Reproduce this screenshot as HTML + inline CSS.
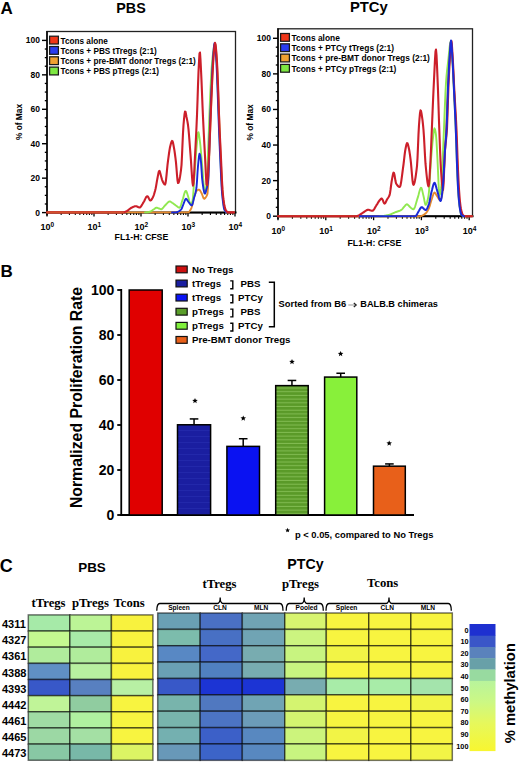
<!DOCTYPE html><html><head><meta charset="utf-8"><style>html,body{margin:0;padding:0;background:#fff;width:520px;height:763px;overflow:hidden}</style></head><body><svg width="520" height="763" viewBox="0 0 520 763" style="display:block">
<rect width="520" height="763" fill="#fff"/>
<text x="0.6" y="13.9" font-family='"Liberation Sans", sans-serif' font-size="17" font-weight="bold" text-anchor="start" fill="#000" >A</text>
<text x="131" y="12.5" font-family='"Liberation Sans", sans-serif' font-size="14.3" font-weight="bold" text-anchor="middle" fill="#000" >PBS</text>
<text x="368.8" y="11.7" font-family='"Liberation Sans", sans-serif' font-size="14.8" font-weight="bold" text-anchor="middle" fill="#000" >PTCy</text>
<rect x="47" y="31.5" width="188.5" height="181.1" fill="none" stroke="#222" stroke-width="1.3"/>
<line x1="47" y1="30.9" x2="47" y2="215.6" stroke="#111" stroke-width="1.7"/>
<line x1="47" y1="212.6" x2="236.5" y2="212.6" stroke="#000" stroke-width="2"/>
<line x1="42" y1="212.6" x2="47" y2="212.6" stroke="#000" stroke-width="1.4"/>
<text x="40" y="215.6" font-family='"Liberation Sans", sans-serif' font-size="8.5" font-weight="bold" text-anchor="end" fill="#000" >0</text>
<line x1="42" y1="178.16" x2="47" y2="178.16" stroke="#000" stroke-width="1.4"/>
<text x="40" y="181.16" font-family='"Liberation Sans", sans-serif' font-size="8.5" font-weight="bold" text-anchor="end" fill="#000" >20</text>
<line x1="42" y1="143.72" x2="47" y2="143.72" stroke="#000" stroke-width="1.4"/>
<text x="40" y="146.72" font-family='"Liberation Sans", sans-serif' font-size="8.5" font-weight="bold" text-anchor="end" fill="#000" >40</text>
<line x1="42" y1="109.28" x2="47" y2="109.28" stroke="#000" stroke-width="1.4"/>
<text x="40" y="112.28" font-family='"Liberation Sans", sans-serif' font-size="8.5" font-weight="bold" text-anchor="end" fill="#000" >60</text>
<line x1="42" y1="74.84" x2="47" y2="74.84" stroke="#000" stroke-width="1.4"/>
<text x="40" y="77.84" font-family='"Liberation Sans", sans-serif' font-size="8.5" font-weight="bold" text-anchor="end" fill="#000" >80</text>
<line x1="42" y1="40.400000000000006" x2="47" y2="40.400000000000006" stroke="#000" stroke-width="1.4"/>
<text x="40" y="43.400000000000006" font-family='"Liberation Sans", sans-serif' font-size="8.5" font-weight="bold" text-anchor="end" fill="#000" >100</text>
<line x1="44.8" y1="203.99" x2="47" y2="203.99" stroke="#000" stroke-width="1.3"/>
<line x1="44.8" y1="195.38" x2="47" y2="195.38" stroke="#000" stroke-width="1.3"/>
<line x1="44.8" y1="186.76999999999998" x2="47" y2="186.76999999999998" stroke="#000" stroke-width="1.3"/>
<line x1="44.8" y1="169.55" x2="47" y2="169.55" stroke="#000" stroke-width="1.3"/>
<line x1="44.8" y1="160.94" x2="47" y2="160.94" stroke="#000" stroke-width="1.3"/>
<line x1="44.8" y1="152.32999999999998" x2="47" y2="152.32999999999998" stroke="#000" stroke-width="1.3"/>
<line x1="44.8" y1="135.11" x2="47" y2="135.11" stroke="#000" stroke-width="1.3"/>
<line x1="44.8" y1="126.5" x2="47" y2="126.5" stroke="#000" stroke-width="1.3"/>
<line x1="44.8" y1="117.89" x2="47" y2="117.89" stroke="#000" stroke-width="1.3"/>
<line x1="44.8" y1="100.66999999999999" x2="47" y2="100.66999999999999" stroke="#000" stroke-width="1.3"/>
<line x1="44.8" y1="92.05999999999999" x2="47" y2="92.05999999999999" stroke="#000" stroke-width="1.3"/>
<line x1="44.8" y1="83.44999999999999" x2="47" y2="83.44999999999999" stroke="#000" stroke-width="1.3"/>
<line x1="44.8" y1="66.23000000000002" x2="47" y2="66.23000000000002" stroke="#000" stroke-width="1.3"/>
<line x1="44.8" y1="57.620000000000005" x2="47" y2="57.620000000000005" stroke="#000" stroke-width="1.3"/>
<line x1="44.8" y1="49.01000000000002" x2="47" y2="49.01000000000002" stroke="#000" stroke-width="1.3"/>
<line x1="61.14840979620712" y1="212.6" x2="61.14840979620712" y2="215.1" stroke="#000" stroke-width="1.1"/>
<line x1="69.42469897182414" y1="212.6" x2="69.42469897182414" y2="215.1" stroke="#000" stroke-width="1.1"/>
<line x1="75.29681959241424" y1="212.6" x2="75.29681959241424" y2="215.1" stroke="#000" stroke-width="1.1"/>
<line x1="79.85159020379288" y1="212.6" x2="79.85159020379288" y2="215.1" stroke="#000" stroke-width="1.1"/>
<line x1="83.57310876803126" y1="212.6" x2="83.57310876803126" y2="215.1" stroke="#000" stroke-width="1.1"/>
<line x1="86.71960788067007" y1="212.6" x2="86.71960788067007" y2="215.1" stroke="#000" stroke-width="1.1"/>
<line x1="89.44522938862136" y1="212.6" x2="89.44522938862136" y2="215.1" stroke="#000" stroke-width="1.1"/>
<line x1="91.84939794364827" y1="212.6" x2="91.84939794364827" y2="215.1" stroke="#000" stroke-width="1.1"/>
<line x1="108.14840979620712" y1="212.6" x2="108.14840979620712" y2="215.1" stroke="#000" stroke-width="1.1"/>
<line x1="116.42469897182413" y1="212.6" x2="116.42469897182413" y2="215.1" stroke="#000" stroke-width="1.1"/>
<line x1="122.29681959241424" y1="212.6" x2="122.29681959241424" y2="215.1" stroke="#000" stroke-width="1.1"/>
<line x1="126.85159020379288" y1="212.6" x2="126.85159020379288" y2="215.1" stroke="#000" stroke-width="1.1"/>
<line x1="130.57310876803126" y1="212.6" x2="130.57310876803126" y2="215.1" stroke="#000" stroke-width="1.1"/>
<line x1="133.71960788067008" y1="212.6" x2="133.71960788067008" y2="215.1" stroke="#000" stroke-width="1.1"/>
<line x1="136.44522938862133" y1="212.6" x2="136.44522938862133" y2="215.1" stroke="#000" stroke-width="1.1"/>
<line x1="138.84939794364828" y1="212.6" x2="138.84939794364828" y2="215.1" stroke="#000" stroke-width="1.1"/>
<line x1="155.14840979620712" y1="212.6" x2="155.14840979620712" y2="215.1" stroke="#000" stroke-width="1.1"/>
<line x1="163.42469897182414" y1="212.6" x2="163.42469897182414" y2="215.1" stroke="#000" stroke-width="1.1"/>
<line x1="169.29681959241424" y1="212.6" x2="169.29681959241424" y2="215.1" stroke="#000" stroke-width="1.1"/>
<line x1="173.85159020379288" y1="212.6" x2="173.85159020379288" y2="215.1" stroke="#000" stroke-width="1.1"/>
<line x1="177.57310876803126" y1="212.6" x2="177.57310876803126" y2="215.1" stroke="#000" stroke-width="1.1"/>
<line x1="180.71960788067008" y1="212.6" x2="180.71960788067008" y2="215.1" stroke="#000" stroke-width="1.1"/>
<line x1="183.44522938862136" y1="212.6" x2="183.44522938862136" y2="215.1" stroke="#000" stroke-width="1.1"/>
<line x1="185.84939794364826" y1="212.6" x2="185.84939794364826" y2="215.1" stroke="#000" stroke-width="1.1"/>
<line x1="202.14840979620712" y1="212.6" x2="202.14840979620712" y2="215.1" stroke="#000" stroke-width="1.1"/>
<line x1="210.42469897182414" y1="212.6" x2="210.42469897182414" y2="215.1" stroke="#000" stroke-width="1.1"/>
<line x1="216.29681959241424" y1="212.6" x2="216.29681959241424" y2="215.1" stroke="#000" stroke-width="1.1"/>
<line x1="220.85159020379288" y1="212.6" x2="220.85159020379288" y2="215.1" stroke="#000" stroke-width="1.1"/>
<line x1="224.57310876803126" y1="212.6" x2="224.57310876803126" y2="215.1" stroke="#000" stroke-width="1.1"/>
<line x1="227.71960788067008" y1="212.6" x2="227.71960788067008" y2="215.1" stroke="#000" stroke-width="1.1"/>
<line x1="230.44522938862136" y1="212.6" x2="230.44522938862136" y2="215.1" stroke="#000" stroke-width="1.1"/>
<line x1="232.84939794364826" y1="212.6" x2="232.84939794364826" y2="215.1" stroke="#000" stroke-width="1.1"/>
<line x1="47" y1="212.6" x2="47" y2="216.6" stroke="#000" stroke-width="1.3"/>
<text x="47.3" y="230.4" font-family='"Liberation Sans", sans-serif' font-size="9" font-weight="bold" text-anchor="middle">10<tspan dy="-3.5" font-size="6.5">0</tspan></text>
<line x1="94" y1="212.6" x2="94" y2="216.6" stroke="#000" stroke-width="1.3"/>
<text x="94.3" y="230.4" font-family='"Liberation Sans", sans-serif' font-size="9" font-weight="bold" text-anchor="middle">10<tspan dy="-3.5" font-size="6.5">1</tspan></text>
<line x1="141" y1="212.6" x2="141" y2="216.6" stroke="#000" stroke-width="1.3"/>
<text x="141.3" y="230.4" font-family='"Liberation Sans", sans-serif' font-size="9" font-weight="bold" text-anchor="middle">10<tspan dy="-3.5" font-size="6.5">2</tspan></text>
<line x1="188" y1="212.6" x2="188" y2="216.6" stroke="#000" stroke-width="1.3"/>
<text x="188.3" y="230.4" font-family='"Liberation Sans", sans-serif' font-size="9" font-weight="bold" text-anchor="middle">10<tspan dy="-3.5" font-size="6.5">3</tspan></text>
<line x1="235" y1="212.6" x2="235" y2="216.6" stroke="#000" stroke-width="1.3"/>
<text x="235.3" y="230.4" font-family='"Liberation Sans", sans-serif' font-size="9" font-weight="bold" text-anchor="middle">10<tspan dy="-3.5" font-size="6.5">4</tspan></text>
<text x="0" y="0" transform="translate(22.4,122) rotate(-90) scale(0.89,1)" font-family='"Liberation Sans", sans-serif' font-size="9.4" font-weight="bold" text-anchor="middle">% of Max</text>
<text x="114.6" y="239.6" font-family='"Liberation Sans", sans-serif' font-size="8.8" font-weight="bold" text-anchor="start" fill="#000" >FL1-H: CFSE</text>
<path d="M47.0,212.4 L188.0,212.4 L188.5,212.3 L189.0,211.9 L189.5,211.3 L190.0,210.6 L190.5,209.9 L191.0,209.0 L191.5,207.8 L192.0,206.1 L192.5,204.0 L193.0,201.8 L193.5,199.5 L194.0,197.5 L194.5,195.9 L195.0,194.4 L195.5,192.9 L196.0,191.7 L196.5,191.0 L197.0,190.6 L197.5,190.2 L198.0,189.9 L198.5,189.7 L199.0,189.6 L199.5,189.8 L200.0,190.4 L200.5,191.2 L201.0,192.1 L201.5,193.0 L202.0,194.1 L202.5,195.5 L203.0,196.9 L203.5,198.1 L204.0,198.7 L204.5,198.7 L205.0,198.3 L205.5,197.7 L206.0,197.0 L206.5,196.2 L207.0,195.2 L207.5,193.6 L208.0,188.0 L208.5,176.9 L209.0,163.3 L209.5,150.0 L210.0,136.8 L210.5,122.3 L211.0,107.9 L211.5,95.0 L212.0,83.1 L212.5,71.8 L213.0,62.3 L213.5,55.6 L214.0,49.7 L214.5,45.3 L215.0,43.5 L215.5,45.3 L216.0,49.8 L216.5,55.8 L217.0,63.7 L217.5,75.4 L218.0,88.0 L218.5,100.7 L219.0,114.1 L219.5,127.2 L220.0,140.6 L220.5,153.3 L221.0,164.2 L221.5,174.5 L222.0,183.8 L222.5,191.5 L223.0,197.0 L223.5,201.6 L224.0,205.5 L224.5,208.4 L225.0,210.0 L225.5,210.7 L226.0,211.3 L226.5,211.8 L227.0,212.1 L227.5,212.3 L228.0,212.4 L234.0,212.4" fill="none" stroke="#e58a2e" stroke-width="1.9" stroke-linejoin="round" stroke-linecap="round"/>
<path d="M145.0,212.4 L145.5,212.4 L146.0,212.4 L146.5,212.3 L147.0,212.3 L147.5,212.3 L148.0,212.2 L148.5,212.1 L149.0,212.0 L149.5,211.8 L150.0,211.7 L150.5,211.5 L151.0,211.2 L151.5,210.9 L152.0,210.6 L152.5,210.2 L153.0,209.8 L153.5,209.5 L154.0,209.2 L154.5,208.8 L155.0,208.4 L155.5,208.0 L156.0,207.8 L156.5,207.7 L157.0,207.8 L157.5,207.9 L158.0,208.1 L158.5,208.3 L159.0,208.5 L159.5,208.7 L160.0,208.9 L160.5,209.1 L161.0,209.2 L161.5,209.2 L162.0,208.9 L162.5,208.5 L163.0,207.9 L163.5,207.3 L164.0,206.6 L164.5,206.0 L165.0,205.5 L165.5,205.0 L166.0,204.5 L166.5,203.9 L167.0,203.3 L167.5,202.8 L168.0,202.3 L168.5,201.9 L169.0,201.6 L169.5,201.5 L170.0,201.5 L170.5,201.7 L171.0,202.0 L171.5,202.3 L172.0,202.7 L172.5,203.0 L173.0,203.3 L173.5,203.7 L174.0,204.1 L174.5,204.4 L175.0,204.8 L175.5,205.2 L176.0,205.5 L176.5,205.9 L177.0,206.3 L177.5,206.7 L178.0,207.1 L178.5,207.4 L179.0,207.6 L179.5,207.7 L180.0,207.4 L180.5,206.5 L181.0,205.0 L181.5,203.3 L182.0,201.5 L182.5,200.0 L183.0,198.5 L183.5,196.7 L184.0,194.8 L184.5,193.1 L185.0,191.8 L185.5,190.9 L186.0,190.9 L186.5,191.6 L187.0,192.9 L187.5,194.5 L188.0,196.0 L188.5,197.7 L189.0,199.9 L189.5,201.9 L190.0,203.4 L190.5,203.8 L191.0,203.6 L191.5,203.0 L192.0,202.2 L192.5,201.1 L193.0,197.1 L193.5,190.3 L194.0,182.4 L194.5,175.0 L195.0,168.1 L195.5,160.9 L196.0,154.0 L196.5,148.0 L197.0,142.2 L197.5,136.6 L198.0,132.7 L198.5,132.2 L199.0,134.4 L199.5,138.0 L200.0,142.0 L200.5,146.5 L201.0,152.1 L201.5,158.1 L202.0,164.1 L202.5,169.6 L203.0,176.0 L203.5,182.7 L204.0,188.5 L204.5,192.5 L205.0,193.5 L205.5,191.8 L206.0,188.2 L206.5,183.3 L207.0,177.3 L207.5,166.8 L208.0,153.4 L208.5,140.0 L209.0,126.6 L209.5,112.7 L210.0,100.0 L210.5,88.7 L211.0,78.3 L211.5,70.0 L212.0,63.5 L212.5,57.9 L213.0,53.5 L213.5,49.9 L214.0,46.6 L214.5,44.4 L215.0,44.3 L215.5,47.7 L216.0,53.2 L216.5,60.0 L217.0,70.5 L217.5,83.1 L218.0,95.5 L218.5,108.7 L219.0,122.0 L219.5,135.3 L220.0,148.4 L220.5,160.0 L221.0,170.4 L221.5,180.3 L222.0,188.8 L222.5,195.0 L223.0,199.6 L223.5,203.7 L224.0,206.9 L224.5,209.2 L225.0,210.4 L225.5,211.2 L226.0,211.8 L226.5,212.2 L227.0,212.4" fill="none" stroke="#90e850" stroke-width="1.9" stroke-linejoin="round" stroke-linecap="round"/>
<path d="M172.0,212.4 L176.0,212.4 L176.5,212.3 L177.0,212.2 L177.5,212.0 L178.0,211.8 L178.5,211.5 L179.0,211.2 L179.5,210.9 L180.0,210.6 L180.5,210.1 L181.0,209.6 L181.5,209.0 L182.0,208.0 L182.5,206.7 L183.0,205.3 L183.5,204.0 L184.0,202.7 L184.5,201.3 L185.0,200.0 L185.5,199.1 L186.0,198.8 L186.5,199.1 L187.0,199.7 L187.5,200.5 L188.0,201.3 L188.5,202.0 L189.0,202.6 L189.5,203.3 L190.0,204.0 L190.5,204.6 L191.0,205.1 L191.5,205.3 L192.0,205.3 L192.5,204.2 L193.0,202.3 L193.5,200.1 L194.0,198.0 L194.5,196.3 L195.0,194.7 L195.5,192.9 L196.0,190.6 L196.5,187.5 L197.0,181.1 L197.5,172.8 L198.0,166.0 L198.5,160.8 L199.0,156.1 L199.5,153.7 L200.0,154.6 L200.5,157.7 L201.0,162.0 L201.5,169.4 L202.0,177.3 L202.5,182.0 L203.0,185.7 L203.5,189.0 L204.0,191.5 L204.5,193.2 L205.0,193.6 L205.5,192.7 L206.0,190.9 L206.5,189.0 L207.0,187.2 L207.5,185.1 L208.0,182.1 L208.5,175.4 L209.0,159.1 L209.5,139.8 L210.0,124.5 L210.5,111.5 L211.0,99.3 L211.5,88.0 L212.0,77.0 L212.5,66.7 L213.0,58.3 L213.5,51.8 L214.0,46.1 L214.5,43.1 L215.0,44.4 L215.5,49.2 L216.0,55.7 L216.5,63.8 L217.0,75.3 L217.5,88.0 L218.0,101.9 L218.5,116.6 L219.0,129.7 L219.5,142.0 L220.0,153.6 L220.5,164.2 L221.0,175.0 L221.5,184.9 L222.0,192.7 L222.5,197.9 L223.0,202.2 L223.5,205.8 L224.0,208.5 L224.5,210.0 L225.0,210.8 L225.5,211.5 L226.0,212.0 L226.5,212.3 L227.0,212.4" fill="none" stroke="#1a2ad8" stroke-width="1.9" stroke-linejoin="round" stroke-linecap="round"/>
<path d="M47.0,212.4 L123.0,212.4 L123.5,212.4 L124.0,212.3 L124.5,212.1 L125.0,211.9 L125.5,211.7 L126.0,211.5 L126.5,211.2 L127.0,211.0 L127.5,210.7 L128.0,210.4 L128.5,209.9 L129.0,209.5 L129.5,209.1 L130.0,208.7 L130.5,208.3 L131.0,208.0 L131.5,207.7 L132.0,207.5 L132.5,207.2 L133.0,207.0 L133.5,206.8 L134.0,206.6 L134.5,206.4 L135.0,206.3 L135.5,206.2 L136.0,206.2 L136.5,206.3 L137.0,206.5 L137.5,206.7 L138.0,207.0 L138.5,207.2 L139.0,207.4 L139.5,207.5 L140.0,207.4 L140.5,207.0 L141.0,206.4 L141.5,205.7 L142.0,204.8 L142.5,204.0 L143.0,203.1 L143.5,202.3 L144.0,201.5 L144.5,200.5 L145.0,199.4 L145.5,198.4 L146.0,197.4 L146.5,196.7 L147.0,196.3 L147.5,196.3 L148.0,196.8 L148.5,197.6 L149.0,198.7 L149.5,199.6 L150.0,200.3 L150.5,200.5 L151.0,200.2 L151.5,199.7 L152.0,198.9 L152.5,198.0 L153.0,197.0 L153.5,195.9 L154.0,194.5 L154.5,192.8 L155.0,191.0 L155.5,189.0 L156.0,186.6 L156.5,183.6 L157.0,180.6 L157.5,178.0 L158.0,175.4 L158.5,172.9 L159.0,171.1 L159.5,170.9 L160.0,172.2 L160.5,174.1 L161.0,176.0 L161.5,177.8 L162.0,179.6 L162.5,181.0 L163.0,182.0 L163.5,183.0 L164.0,183.8 L164.5,184.4 L165.0,184.6 L165.5,183.3 L166.0,180.0 L166.5,175.4 L167.0,170.1 L167.5,165.0 L168.0,160.8 L168.5,157.2 L169.0,153.5 L169.5,150.1 L170.0,147.3 L170.5,145.2 L171.0,143.3 L171.5,141.8 L172.0,140.9 L172.5,141.1 L173.0,142.8 L173.5,145.3 L174.0,148.0 L174.5,150.9 L175.0,154.5 L175.5,158.4 L176.0,162.6 L176.5,168.5 L177.0,174.9 L177.5,180.3 L178.0,183.0 L178.5,182.8 L179.0,181.6 L179.5,179.6 L180.0,176.9 L180.5,173.7 L181.0,170.0 L181.5,165.1 L182.0,155.7 L182.5,144.1 L183.0,133.0 L183.5,125.0 L184.0,119.4 L184.5,114.5 L185.0,111.6 L185.5,111.8 L186.0,114.2 L186.5,117.0 L187.0,119.4 L187.5,121.9 L188.0,125.0 L188.5,129.4 L189.0,135.0 L189.5,141.4 L190.0,148.0 L190.5,154.3 L191.0,161.2 L191.5,169.2 L192.0,176.8 L192.5,182.7 L193.0,185.6 L193.5,183.6 L194.0,176.3 L194.5,166.3 L195.0,156.1 L195.5,146.9 L196.0,137.1 L196.5,126.5 L197.0,115.0 L197.5,101.0 L198.0,85.4 L198.5,72.1 L199.0,61.8 L199.5,53.5 L200.0,52.5 L200.5,60.0 L201.0,70.0 L201.5,80.6 L202.0,93.0 L202.5,105.7 L203.0,117.1 L203.5,127.5 L204.0,137.5 L204.5,147.0 L205.0,156.2 L205.5,166.8 L206.0,177.2 L206.5,184.3 L207.0,185.2 L207.5,180.7 L208.0,173.2 L208.5,165.0 L209.0,155.7 L209.5,144.2 L210.0,132.1 L210.5,120.3 L211.0,108.2 L211.5,96.1 L212.0,85.0 L212.5,74.7 L213.0,65.1 L213.5,57.2 L214.0,51.1 L214.5,45.7 L215.0,42.9 L215.5,44.1 L216.0,48.7 L216.5,54.8 L217.0,62.3 L217.5,72.9 L218.0,85.0 L218.5,99.3 L219.0,114.6 L219.5,127.2 L220.0,138.0 L220.5,148.2 L221.0,158.6 L221.5,169.9 L222.0,181.0 L222.5,189.9 L223.0,195.4 L223.5,199.7 L224.0,203.2 L224.5,206.1 L225.0,208.2 L225.5,209.5 L226.0,210.4 L226.5,211.2 L227.0,211.8 L227.5,212.3 L228.0,212.4 L234.0,212.4" fill="none" stroke="#cc1f2a" stroke-width="2.1" stroke-linejoin="round" stroke-linecap="round"/>
<path d="M47.5,212.4 L123.0,212.4" fill="none" stroke="#d4502c" stroke-width="1.9" stroke-linejoin="round" stroke-linecap="round"/>
<rect x="49.6" y="36.2" width="8.8" height="7.8" fill="#f03618" stroke="#1a1a1a" stroke-width="1.25"/>
<text x="60.6" y="43.5" font-family='"Liberation Sans", sans-serif' font-size="8.2" font-weight="bold" text-anchor="start" fill="#000" >Tcons alone</text>
<rect x="49.6" y="46.5" width="8.8" height="7.8" fill="#2a3cf0" stroke="#1a1a1a" stroke-width="1.25"/>
<text x="60.6" y="53.8" font-family='"Liberation Sans", sans-serif' font-size="8.2" font-weight="bold" text-anchor="start" fill="#000" >Tcons + PBS tTregs (2:1)</text>
<rect x="49.6" y="56.800000000000004" width="8.8" height="7.8" fill="#f0a232" stroke="#1a1a1a" stroke-width="1.25"/>
<text x="60.6" y="64.10000000000001" font-family='"Liberation Sans", sans-serif' font-size="8.2" font-weight="bold" text-anchor="start" fill="#000" >Tcons + pre-BMT donor Tregs (2:1)</text>
<rect x="49.6" y="67.10000000000001" width="8.8" height="7.8" fill="#7ee842" stroke="#1a1a1a" stroke-width="1.25"/>
<text x="60.6" y="74.4" font-family='"Liberation Sans", sans-serif' font-size="8.2" font-weight="bold" text-anchor="start" fill="#000" >Tcons + PBS pTregs (2:1)</text>
<rect x="278" y="28.8" width="194.5" height="187.39999999999998" fill="none" stroke="#222" stroke-width="1.3"/>
<line x1="278" y1="28.2" x2="278" y2="219.2" stroke="#111" stroke-width="1.7"/>
<line x1="278" y1="216.2" x2="473.5" y2="216.2" stroke="#000" stroke-width="2"/>
<line x1="273" y1="216.2" x2="278" y2="216.2" stroke="#000" stroke-width="1.4"/>
<text x="271" y="219.2" font-family='"Liberation Sans", sans-serif' font-size="8.5" font-weight="bold" text-anchor="end" fill="#000" >0</text>
<line x1="273" y1="180.62" x2="278" y2="180.62" stroke="#000" stroke-width="1.4"/>
<text x="271" y="183.62" font-family='"Liberation Sans", sans-serif' font-size="8.5" font-weight="bold" text-anchor="end" fill="#000" >20</text>
<line x1="273" y1="145.04" x2="278" y2="145.04" stroke="#000" stroke-width="1.4"/>
<text x="271" y="148.04" font-family='"Liberation Sans", sans-serif' font-size="8.5" font-weight="bold" text-anchor="end" fill="#000" >40</text>
<line x1="273" y1="109.46000000000001" x2="278" y2="109.46000000000001" stroke="#000" stroke-width="1.4"/>
<text x="271" y="112.46000000000001" font-family='"Liberation Sans", sans-serif' font-size="8.5" font-weight="bold" text-anchor="end" fill="#000" >60</text>
<line x1="273" y1="73.88" x2="278" y2="73.88" stroke="#000" stroke-width="1.4"/>
<text x="271" y="76.88" font-family='"Liberation Sans", sans-serif' font-size="8.5" font-weight="bold" text-anchor="end" fill="#000" >80</text>
<line x1="273" y1="38.30000000000001" x2="278" y2="38.30000000000001" stroke="#000" stroke-width="1.4"/>
<text x="271" y="41.30000000000001" font-family='"Liberation Sans", sans-serif' font-size="8.5" font-weight="bold" text-anchor="end" fill="#000" >100</text>
<line x1="275.8" y1="207.30499999999998" x2="278" y2="207.30499999999998" stroke="#000" stroke-width="1.3"/>
<line x1="275.8" y1="198.41" x2="278" y2="198.41" stroke="#000" stroke-width="1.3"/>
<line x1="275.8" y1="189.515" x2="278" y2="189.515" stroke="#000" stroke-width="1.3"/>
<line x1="275.8" y1="171.725" x2="278" y2="171.725" stroke="#000" stroke-width="1.3"/>
<line x1="275.8" y1="162.82999999999998" x2="278" y2="162.82999999999998" stroke="#000" stroke-width="1.3"/>
<line x1="275.8" y1="153.935" x2="278" y2="153.935" stroke="#000" stroke-width="1.3"/>
<line x1="275.8" y1="136.14499999999998" x2="278" y2="136.14499999999998" stroke="#000" stroke-width="1.3"/>
<line x1="275.8" y1="127.25" x2="278" y2="127.25" stroke="#000" stroke-width="1.3"/>
<line x1="275.8" y1="118.355" x2="278" y2="118.355" stroke="#000" stroke-width="1.3"/>
<line x1="275.8" y1="100.56500000000001" x2="278" y2="100.56500000000001" stroke="#000" stroke-width="1.3"/>
<line x1="275.8" y1="91.67" x2="278" y2="91.67" stroke="#000" stroke-width="1.3"/>
<line x1="275.8" y1="82.775" x2="278" y2="82.775" stroke="#000" stroke-width="1.3"/>
<line x1="275.8" y1="64.98500000000001" x2="278" y2="64.98500000000001" stroke="#000" stroke-width="1.3"/>
<line x1="275.8" y1="56.09" x2="278" y2="56.09" stroke="#000" stroke-width="1.3"/>
<line x1="275.8" y1="47.19500000000002" x2="278" y2="47.19500000000002" stroke="#000" stroke-width="1.3"/>
<line x1="292.3892337927383" y1="216.2" x2="292.3892337927383" y2="218.7" stroke="#000" stroke-width="1.1"/>
<line x1="300.80639597559986" y1="216.2" x2="300.80639597559986" y2="218.7" stroke="#000" stroke-width="1.1"/>
<line x1="306.7784675854766" y1="216.2" x2="306.7784675854766" y2="218.7" stroke="#000" stroke-width="1.1"/>
<line x1="311.4107662072617" y1="216.2" x2="311.4107662072617" y2="218.7" stroke="#000" stroke-width="1.1"/>
<line x1="315.19562976833816" y1="216.2" x2="315.19562976833816" y2="218.7" stroke="#000" stroke-width="1.1"/>
<line x1="318.3956863126815" y1="216.2" x2="318.3956863126815" y2="218.7" stroke="#000" stroke-width="1.1"/>
<line x1="321.16770137821493" y1="216.2" x2="321.16770137821493" y2="218.7" stroke="#000" stroke-width="1.1"/>
<line x1="323.6127919511997" y1="216.2" x2="323.6127919511997" y2="218.7" stroke="#000" stroke-width="1.1"/>
<line x1="340.1892337927383" y1="216.2" x2="340.1892337927383" y2="218.7" stroke="#000" stroke-width="1.1"/>
<line x1="348.60639597559987" y1="216.2" x2="348.60639597559987" y2="218.7" stroke="#000" stroke-width="1.1"/>
<line x1="354.5784675854766" y1="216.2" x2="354.5784675854766" y2="218.7" stroke="#000" stroke-width="1.1"/>
<line x1="359.2107662072617" y1="216.2" x2="359.2107662072617" y2="218.7" stroke="#000" stroke-width="1.1"/>
<line x1="362.9956297683382" y1="216.2" x2="362.9956297683382" y2="218.7" stroke="#000" stroke-width="1.1"/>
<line x1="366.19568631268146" y1="216.2" x2="366.19568631268146" y2="218.7" stroke="#000" stroke-width="1.1"/>
<line x1="368.9677013782149" y1="216.2" x2="368.9677013782149" y2="218.7" stroke="#000" stroke-width="1.1"/>
<line x1="371.4127919511997" y1="216.2" x2="371.4127919511997" y2="218.7" stroke="#000" stroke-width="1.1"/>
<line x1="387.98923379273833" y1="216.2" x2="387.98923379273833" y2="218.7" stroke="#000" stroke-width="1.1"/>
<line x1="396.4063959755999" y1="216.2" x2="396.4063959755999" y2="218.7" stroke="#000" stroke-width="1.1"/>
<line x1="402.3784675854766" y1="216.2" x2="402.3784675854766" y2="218.7" stroke="#000" stroke-width="1.1"/>
<line x1="407.01076620726167" y1="216.2" x2="407.01076620726167" y2="218.7" stroke="#000" stroke-width="1.1"/>
<line x1="410.79562976833813" y1="216.2" x2="410.79562976833813" y2="218.7" stroke="#000" stroke-width="1.1"/>
<line x1="413.99568631268147" y1="216.2" x2="413.99568631268147" y2="218.7" stroke="#000" stroke-width="1.1"/>
<line x1="416.7677013782149" y1="216.2" x2="416.7677013782149" y2="218.7" stroke="#000" stroke-width="1.1"/>
<line x1="419.21279195119973" y1="216.2" x2="419.21279195119973" y2="218.7" stroke="#000" stroke-width="1.1"/>
<line x1="435.7892337927383" y1="216.2" x2="435.7892337927383" y2="218.7" stroke="#000" stroke-width="1.1"/>
<line x1="444.2063959755999" y1="216.2" x2="444.2063959755999" y2="218.7" stroke="#000" stroke-width="1.1"/>
<line x1="450.1784675854766" y1="216.2" x2="450.1784675854766" y2="218.7" stroke="#000" stroke-width="1.1"/>
<line x1="454.8107662072617" y1="216.2" x2="454.8107662072617" y2="218.7" stroke="#000" stroke-width="1.1"/>
<line x1="458.5956297683382" y1="216.2" x2="458.5956297683382" y2="218.7" stroke="#000" stroke-width="1.1"/>
<line x1="461.7956863126815" y1="216.2" x2="461.7956863126815" y2="218.7" stroke="#000" stroke-width="1.1"/>
<line x1="464.5677013782149" y1="216.2" x2="464.5677013782149" y2="218.7" stroke="#000" stroke-width="1.1"/>
<line x1="467.0127919511997" y1="216.2" x2="467.0127919511997" y2="218.7" stroke="#000" stroke-width="1.1"/>
<line x1="278.0" y1="216.2" x2="278.0" y2="220.2" stroke="#000" stroke-width="1.3"/>
<text x="278.3" y="234.0" font-family='"Liberation Sans", sans-serif' font-size="9" font-weight="bold" text-anchor="middle">10<tspan dy="-3.5" font-size="6.5">0</tspan></text>
<line x1="325.8" y1="216.2" x2="325.8" y2="220.2" stroke="#000" stroke-width="1.3"/>
<text x="326.1" y="234.0" font-family='"Liberation Sans", sans-serif' font-size="9" font-weight="bold" text-anchor="middle">10<tspan dy="-3.5" font-size="6.5">1</tspan></text>
<line x1="373.6" y1="216.2" x2="373.6" y2="220.2" stroke="#000" stroke-width="1.3"/>
<text x="373.90000000000003" y="234.0" font-family='"Liberation Sans", sans-serif' font-size="9" font-weight="bold" text-anchor="middle">10<tspan dy="-3.5" font-size="6.5">2</tspan></text>
<line x1="421.4" y1="216.2" x2="421.4" y2="220.2" stroke="#000" stroke-width="1.3"/>
<text x="421.7" y="234.0" font-family='"Liberation Sans", sans-serif' font-size="9" font-weight="bold" text-anchor="middle">10<tspan dy="-3.5" font-size="6.5">3</tspan></text>
<line x1="469.2" y1="216.2" x2="469.2" y2="220.2" stroke="#000" stroke-width="1.3"/>
<text x="469.5" y="234.0" font-family='"Liberation Sans", sans-serif' font-size="9" font-weight="bold" text-anchor="middle">10<tspan dy="-3.5" font-size="6.5">4</tspan></text>
<text x="0" y="0" transform="translate(252.6,122.4) rotate(-90) scale(0.89,1)" font-family='"Liberation Sans", sans-serif' font-size="9.4" font-weight="bold" text-anchor="middle">% of Max</text>
<text x="347.5" y="246" font-family='"Liberation Sans", sans-serif' font-size="8.8" font-weight="bold" text-anchor="start" fill="#000" >FL1-H: CFSE</text>
<path d="M278.0,216.2 L420.0,216.2 L420.5,216.2 L421.0,216.1 L421.5,215.9 L422.0,215.8 L422.5,215.5 L423.0,215.2 L423.5,214.9 L424.0,214.6 L424.5,214.2 L425.0,213.8 L425.5,213.4 L426.0,213.0 L426.5,212.5 L427.0,211.8 L427.5,211.0 L428.0,210.1 L428.5,209.1 L429.0,208.0 L429.5,206.7 L430.0,205.1 L430.5,203.3 L431.0,201.6 L431.5,200.0 L432.0,198.5 L432.5,196.8 L433.0,195.2 L433.5,193.8 L434.0,192.9 L434.5,192.5 L435.0,192.8 L435.5,193.4 L436.0,194.3 L436.5,195.2 L437.0,196.0 L437.5,196.8 L438.0,197.6 L438.5,198.5 L439.0,199.3 L439.5,199.8 L440.0,200.0 L440.5,199.7 L441.0,198.9 L441.5,197.6 L442.0,196.0 L442.5,192.4 L443.0,186.0 L443.5,178.1 L444.0,170.0 L444.5,161.5 L445.0,151.8 L445.5,141.4 L446.0,130.7 L446.5,120.0 L447.0,108.8 L447.5,97.1 L448.0,85.9 L448.5,76.4 L449.0,67.8 L449.5,60.2 L450.0,53.1 L450.5,45.6 L451.0,41.2 L451.5,43.1 L452.0,49.9 L452.5,58.0 L453.0,66.9 L453.5,77.5 L454.0,88.0 L454.5,97.7 L455.0,107.0 L455.5,116.8 L456.0,127.7 L456.5,140.7 L457.0,155.9 L457.5,170.0 L458.0,182.6 L458.5,192.5 L459.0,199.1 L459.5,204.2 L460.0,208.0 L460.5,210.9 L461.0,213.2 L461.5,214.5 L462.0,215.1 L462.5,215.5 L463.0,215.9 L463.5,216.1 L464.0,216.2 L472.0,216.2" fill="none" stroke="#e58a2e" stroke-width="1.9" stroke-linejoin="round" stroke-linecap="round"/>
<path d="M380.0,216.2 L381.0,216.2 L381.5,216.1 L382.0,216.1 L382.5,216.1 L383.0,216.0 L383.5,215.9 L384.0,215.9 L384.5,215.8 L385.0,215.7 L385.5,215.6 L386.0,215.5 L386.5,215.4 L387.0,215.3 L387.5,215.2 L388.0,215.1 L388.5,215.0 L389.0,214.9 L389.5,214.7 L390.0,214.6 L390.5,214.4 L391.0,214.2 L391.5,214.0 L392.0,213.7 L392.5,213.5 L393.0,213.3 L393.5,213.0 L394.0,212.8 L394.5,212.6 L395.0,212.4 L395.5,212.2 L396.0,212.0 L396.5,211.8 L397.0,211.7 L397.5,211.5 L398.0,211.3 L398.5,211.2 L399.0,211.0 L399.5,210.8 L400.0,210.6 L400.5,210.4 L401.0,210.1 L401.5,209.8 L402.0,209.3 L402.5,208.8 L403.0,208.2 L403.5,207.5 L404.0,207.0 L404.5,206.4 L405.0,205.8 L405.5,205.2 L406.0,204.7 L406.5,204.4 L407.0,204.3 L407.5,204.5 L408.0,204.9 L408.5,205.4 L409.0,206.0 L409.5,206.5 L410.0,207.0 L410.5,207.4 L411.0,207.9 L411.5,208.3 L412.0,208.7 L412.5,209.0 L413.0,209.2 L413.5,209.3 L414.0,208.9 L414.5,208.0 L415.0,206.8 L415.5,205.2 L416.0,203.5 L416.5,201.7 L417.0,200.0 L417.5,198.4 L418.0,196.9 L418.5,195.1 L419.0,193.1 L419.5,191.2 L420.0,189.5 L420.5,188.3 L421.0,187.7 L421.5,188.1 L422.0,189.5 L422.5,191.6 L423.0,193.9 L423.5,196.0 L424.0,198.3 L424.5,201.0 L425.0,203.4 L425.5,204.9 L426.0,204.9 L426.5,204.0 L427.0,202.6 L427.5,200.6 L428.0,198.3 L428.5,195.6 L429.0,191.5 L429.5,184.6 L430.0,176.0 L430.5,167.4 L431.0,160.0 L431.5,153.8 L432.0,147.9 L432.5,142.5 L433.0,138.0 L433.5,133.7 L434.0,129.9 L434.5,128.3 L435.0,129.3 L435.5,131.7 L436.0,135.0 L436.5,141.1 L437.0,150.4 L437.5,160.0 L438.0,170.7 L438.5,182.8 L439.0,192.2 L439.5,195.0 L440.0,194.0 L440.5,191.8 L441.0,188.7 L441.5,185.0 L442.0,177.8 L442.5,166.1 L443.0,152.6 L443.5,140.0 L444.0,128.1 L444.5,115.5 L445.0,103.1 L445.5,91.8 L446.0,82.7 L446.5,76.1 L447.0,71.0 L447.5,66.6 L448.0,62.5 L448.5,58.2 L449.0,53.1 L449.5,48.1 L450.0,44.0 L450.5,42.1 L451.0,43.5 L451.5,48.6 L452.0,55.3 L452.5,62.4 L453.0,71.7 L453.5,81.9 L454.0,91.9 L454.5,101.8 L455.0,112.0 L455.5,122.9 L456.0,135.2 L456.5,150.1 L457.0,164.9 L457.5,177.0 L458.0,187.6 L458.5,195.2 L459.0,201.2 L459.5,205.9 L460.0,209.2 L460.5,211.9 L461.0,213.9 L461.5,214.7 L462.0,215.2 L462.5,215.6 L463.0,215.9 L463.5,216.1 L464.0,216.2" fill="none" stroke="#90e850" stroke-width="1.9" stroke-linejoin="round" stroke-linecap="round"/>
<path d="M278.0,216.2 L356.0,216.2 L356.5,216.2 L357.0,216.1 L357.5,215.9 L358.0,215.8 L358.5,215.6 L359.0,215.3 L359.5,215.0 L360.0,214.7 L360.5,214.3 L361.0,214.0 L361.5,213.7 L362.0,213.3 L362.5,213.0 L363.0,212.7 L363.5,212.3 L364.0,212.0 L364.5,211.7 L365.0,211.3 L365.5,210.9 L366.0,210.6 L366.5,210.3 L367.0,210.0 L367.5,209.9 L368.0,209.8 L368.5,209.8 L369.0,209.9 L369.5,210.1 L370.0,210.2 L370.5,210.4 L371.0,210.6 L371.5,210.7 L372.0,210.8 L372.5,210.8 L373.0,210.5 L373.5,210.0 L374.0,209.4 L374.5,208.6 L375.0,207.7 L375.5,206.8 L376.0,206.0 L376.5,205.1 L377.0,204.4 L377.5,203.6 L378.0,202.7 L378.5,201.9 L379.0,201.1 L379.5,200.5 L380.0,199.9 L380.5,199.3 L381.0,198.8 L381.5,198.5 L382.0,198.7 L382.5,199.5 L383.0,200.7 L383.5,202.0 L384.0,203.0 L384.5,203.6 L385.0,203.4 L385.5,202.7 L386.0,201.6 L386.5,200.5 L387.0,199.5 L387.5,198.7 L388.0,198.0 L388.5,197.2 L389.0,196.3 L389.5,195.2 L390.0,193.2 L390.5,189.9 L391.0,186.0 L391.5,182.3 L392.0,179.4 L392.5,176.6 L393.0,174.1 L393.5,172.7 L394.0,172.9 L394.5,175.0 L395.0,178.1 L395.5,181.1 L396.0,183.2 L396.5,184.1 L397.0,184.8 L397.5,185.5 L398.0,186.1 L398.5,186.5 L399.0,186.8 L399.5,187.0 L400.0,186.7 L400.5,185.3 L401.0,182.8 L401.5,179.6 L402.0,175.9 L402.5,172.0 L403.0,168.1 L403.5,164.5 L404.0,160.3 L404.5,155.8 L405.0,151.8 L405.5,149.0 L406.0,146.4 L406.5,144.3 L407.0,143.1 L407.5,143.3 L408.0,144.7 L408.5,146.7 L409.0,148.9 L409.5,151.8 L410.0,155.2 L410.5,158.8 L411.0,163.4 L411.5,169.1 L412.0,175.0 L412.5,180.3 L413.0,183.8 L413.5,184.8 L414.0,184.1 L414.5,182.7 L415.0,180.4 L415.5,177.6 L416.0,174.1 L416.5,170.3 L417.0,166.0 L417.5,158.3 L418.0,146.4 L418.5,134.1 L419.0,125.0 L419.5,118.6 L420.0,113.2 L420.5,110.4 L421.0,111.0 L421.5,113.5 L422.0,116.7 L422.5,120.1 L423.0,124.6 L423.5,130.0 L424.0,137.3 L424.5,146.5 L425.0,155.9 L425.5,163.7 L426.0,169.0 L426.5,174.0 L427.0,178.5 L427.5,182.3 L428.0,185.0 L428.5,186.3 L429.0,184.5 L429.5,178.1 L430.0,169.3 L430.5,160.0 L431.0,149.5 L431.5,137.2 L432.0,125.4 L432.5,113.4 L433.0,101.5 L433.5,90.2 L434.0,80.0 L434.5,69.6 L435.0,59.2 L435.5,51.6 L436.0,49.5 L436.5,55.0 L437.0,65.6 L437.5,77.7 L438.0,90.4 L438.5,105.8 L439.0,121.5 L439.5,135.3 L440.0,148.7 L440.5,160.8 L441.0,170.0 L441.5,177.1 L442.0,183.5 L442.5,188.2 L443.0,190.0 L443.5,185.0 L444.0,173.4 L444.5,160.1 L445.0,150.0 L445.5,144.3 L446.0,140.0 L446.5,135.2 L447.0,128.3 L447.5,115.3 L448.0,99.2 L448.5,85.0 L449.0,74.2 L449.5,64.6 L450.0,56.4 L450.5,48.2 L451.0,41.9 L451.5,41.2 L452.0,46.6 L452.5,54.8 L453.0,63.1 L453.5,73.3 L454.0,84.0 L454.5,93.6 L455.0,102.2 L455.5,110.8 L456.0,119.8 L456.5,130.0 L457.0,142.8 L457.5,157.2 L458.0,170.0 L458.5,180.6 L459.0,189.6 L459.5,196.3 L460.0,201.8 L460.5,206.1 L461.0,209.0 L461.5,211.4 L462.0,213.2 L462.5,214.4 L463.0,215.0 L463.5,215.5 L464.0,215.9 L464.5,216.1 L465.0,216.2 L472.0,216.2" fill="none" stroke="#cc1f2a" stroke-width="2.1" stroke-linejoin="round" stroke-linecap="round"/>
<path d="M360.0,216.2 L415.5,216.0 L416.0,215.8 L416.5,215.2 L417.0,214.4 L417.5,213.4 L418.0,212.4 L418.5,211.5 L419.0,210.7 L419.5,209.8 L420.0,208.9 L420.5,208.1 L421.0,207.5 L421.5,207.2 L422.0,207.3 L422.5,207.5 L423.0,208.0 L423.5,208.4 L424.0,209.0 L424.5,209.4 L425.0,209.8 L425.5,210.0 L426.0,209.9 L426.5,209.5 L427.0,208.7 L427.5,207.7 L428.0,206.5 L428.5,205.2 L429.0,203.8 L429.5,201.7 L430.0,199.2 L430.5,196.6 L431.0,194.1 L431.5,192.0 L432.0,190.1 L432.5,188.0 L433.0,186.0 L433.5,184.4 L434.0,183.2 L434.5,182.8 L435.0,183.3 L435.5,184.6 L436.0,186.4 L436.5,188.3 L437.0,190.0 L437.5,191.7 L438.0,193.6 L438.5,195.6 L439.0,197.6 L439.5,199.2 L440.0,200.4 L440.5,201.0 L441.0,200.4 L441.5,198.0 L442.0,194.3 L442.5,189.9 L443.0,185.0 L443.5,178.2 L444.0,168.8 L444.5,158.8 L445.0,150.0 L445.5,143.5 L446.0,137.5 L446.5,130.0 L447.0,117.8 L447.5,102.0 L448.0,87.4 L448.5,76.2 L449.0,66.3 L449.5,58.0 L450.0,50.3 L450.5,43.5 L451.0,40.6 L451.5,43.9 L452.0,51.4 L452.5,59.6 L453.0,68.8 L453.5,79.4 L454.0,90.1 L454.5,100.6 L455.0,111.3 L455.5,122.7 L456.0,135.3 L456.5,150.2 L457.0,164.9 L457.5,177.0 L458.0,187.6 L458.5,195.2 L459.0,201.2 L459.5,205.9 L460.0,209.2 L460.5,211.9 L461.0,213.9 L461.5,214.7 L462.0,215.2 L462.5,215.6 L463.0,215.9 L463.5,216.1 L464.0,216.2" fill="none" stroke="#1a2ad8" stroke-width="2.0" stroke-linejoin="round" stroke-linecap="round"/>
<rect x="280.6" y="33.5" width="8.8" height="7.8" fill="#f03618" stroke="#1a1a1a" stroke-width="1.25"/>
<text x="291.6" y="40.8" font-family='"Liberation Sans", sans-serif' font-size="8.4" font-weight="bold" text-anchor="start" fill="#000" >Tcons alone</text>
<rect x="280.6" y="43.8" width="8.8" height="7.8" fill="#2a3cf0" stroke="#1a1a1a" stroke-width="1.25"/>
<text x="291.6" y="51.099999999999994" font-family='"Liberation Sans", sans-serif' font-size="8.4" font-weight="bold" text-anchor="start" fill="#000" >Tcons + PTCy tTregs (2:1)</text>
<rect x="280.6" y="54.1" width="8.8" height="7.8" fill="#f0a232" stroke="#1a1a1a" stroke-width="1.25"/>
<text x="291.6" y="61.4" font-family='"Liberation Sans", sans-serif' font-size="8.4" font-weight="bold" text-anchor="start" fill="#000" >Tcons + pre-BMT donor Tregs (2:1)</text>
<rect x="280.6" y="64.4" width="8.8" height="7.8" fill="#7ee842" stroke="#1a1a1a" stroke-width="1.25"/>
<text x="291.6" y="71.7" font-family='"Liberation Sans", sans-serif' font-size="8.4" font-weight="bold" text-anchor="start" fill="#000" >Tcons + PTCy pTregs (2:1)</text>
<text x="0.4" y="277.3" font-family='"Liberation Sans", sans-serif' font-size="17" font-weight="bold" text-anchor="start" fill="#000" >B</text>
<line x1="121.25" y1="289" x2="121.25" y2="516" stroke="#000" stroke-width="1.8"/>
<line x1="120.25" y1="515" x2="414" y2="515" stroke="#000" stroke-width="1.8"/>
<line x1="117.25" y1="515.0" x2="121.25" y2="515.0" stroke="#000" stroke-width="1.8"/>
<text x="114.25" y="520.0" font-family='"Liberation Sans", sans-serif' font-size="14" font-weight="bold" text-anchor="end" fill="#000" >0</text>
<line x1="117.25" y1="470.0" x2="121.25" y2="470.0" stroke="#000" stroke-width="1.8"/>
<text x="114.25" y="475.0" font-family='"Liberation Sans", sans-serif' font-size="14" font-weight="bold" text-anchor="end" fill="#000" >20</text>
<line x1="117.25" y1="425.0" x2="121.25" y2="425.0" stroke="#000" stroke-width="1.8"/>
<text x="114.25" y="430.0" font-family='"Liberation Sans", sans-serif' font-size="14" font-weight="bold" text-anchor="end" fill="#000" >40</text>
<line x1="117.25" y1="380.0" x2="121.25" y2="380.0" stroke="#000" stroke-width="1.8"/>
<text x="114.25" y="385.0" font-family='"Liberation Sans", sans-serif' font-size="14" font-weight="bold" text-anchor="end" fill="#000" >60</text>
<line x1="117.25" y1="335.0" x2="121.25" y2="335.0" stroke="#000" stroke-width="1.8"/>
<text x="114.25" y="340.0" font-family='"Liberation Sans", sans-serif' font-size="14" font-weight="bold" text-anchor="end" fill="#000" >80</text>
<line x1="117.25" y1="290.0" x2="121.25" y2="290.0" stroke="#000" stroke-width="1.8"/>
<text x="114.25" y="295.0" font-family='"Liberation Sans", sans-serif' font-size="14" font-weight="bold" text-anchor="end" fill="#000" >100</text>
<text x="0" y="0" transform="translate(82,397.5) rotate(-90)" font-family='"Liberation Sans", sans-serif' font-size="15.8" font-weight="bold" text-anchor="middle">Normalized Proliferation Rate</text>
<defs><pattern id="stripe_green" patternUnits="userSpaceOnUse" width="4" height="3.7"><rect width="4" height="3.7" fill="#5a9a28"/><rect y="2.7" width="4" height="0.8" fill="#8cc45c"/></pattern><pattern id="stripe_navy" patternUnits="userSpaceOnUse" width="4" height="6"><rect width="4" height="6" fill="#1a1ea0"/><rect y="4" width="4" height="1" fill="#2228aa"/></pattern></defs>
<rect x="129.2" y="290.0" width="33.0" height="225.0" fill="#e00000" stroke="#000" stroke-width="1.5"/>
<rect x="177.5" y="424.775" width="33.099999999999994" height="90.22500000000002" fill="url(#stripe_navy)" stroke="#000" stroke-width="1.5"/>
<line x1="194.05" y1="424.775" x2="194.05" y2="418.925" stroke="#000" stroke-width="1.5"/>
<line x1="189.75" y1="418.925" x2="198.35000000000002" y2="418.925" stroke="#000" stroke-width="1.5"/>
<polygon points="195.00,397.90 195.77,399.74 197.76,399.90 196.24,401.20 196.70,403.15 195.00,402.11 193.30,403.15 193.76,401.20 192.24,399.90 194.23,399.74" fill="#000"/>
<rect x="226.9" y="446.375" width="32.599999999999994" height="68.625" fill="#0a12f2" stroke="#000" stroke-width="1.5"/>
<line x1="243.2" y1="446.375" x2="243.2" y2="438.725" stroke="#000" stroke-width="1.5"/>
<line x1="238.89999999999998" y1="438.725" x2="247.5" y2="438.725" stroke="#000" stroke-width="1.5"/>
<polygon points="243.25,415.40 244.02,417.24 246.01,417.40 244.49,418.70 244.95,420.65 243.25,419.61 241.55,420.65 242.01,418.70 240.49,417.40 242.48,417.24" fill="#000"/>
<rect x="275.7" y="385.625" width="32.5" height="129.375" fill="url(#stripe_green)" stroke="#000" stroke-width="1.5"/>
<line x1="291.95" y1="385.625" x2="291.95" y2="380.45" stroke="#000" stroke-width="1.5"/>
<line x1="287.65" y1="380.45" x2="296.25" y2="380.45" stroke="#000" stroke-width="1.5"/>
<polygon points="292.00,358.90 292.77,360.74 294.76,360.90 293.24,362.20 293.70,364.15 292.00,363.11 290.30,364.15 290.76,362.20 289.24,360.90 291.23,360.74" fill="#000"/>
<rect x="324.6" y="377.075" width="32.19999999999999" height="137.925" fill="#88f03a" stroke="#000" stroke-width="1.5"/>
<line x1="340.70000000000005" y1="377.075" x2="340.70000000000005" y2="373.25" stroke="#000" stroke-width="1.5"/>
<line x1="336.40000000000003" y1="373.25" x2="345.00000000000006" y2="373.25" stroke="#000" stroke-width="1.5"/>
<polygon points="340.60,350.90 341.37,352.74 343.36,352.90 341.84,354.20 342.30,356.15 340.60,355.11 338.90,356.15 339.36,354.20 337.84,352.90 339.83,352.74" fill="#000"/>
<rect x="373.5" y="466.175" width="31.80000000000001" height="48.82499999999999" fill="#e8601a" stroke="#000" stroke-width="1.5"/>
<line x1="389.4" y1="466.175" x2="389.4" y2="463.925" stroke="#000" stroke-width="1.5"/>
<line x1="385.09999999999997" y1="463.925" x2="393.7" y2="463.925" stroke="#000" stroke-width="1.5"/>
<polygon points="389.20,440.40 389.97,442.24 391.96,442.40 390.44,443.70 390.90,445.65 389.20,444.61 387.50,445.65 387.96,443.70 386.44,442.40 388.43,442.24" fill="#000"/>
<rect x="176" y="266.0" width="11.2" height="6.8" fill="#cc1010" stroke="#111" stroke-width="1.2"/>
<text x="192" y="272.8" font-family='"Liberation Sans", sans-serif' font-size="9.7" font-weight="bold" text-anchor="start" fill="#000" >No Tregs</text>
<rect x="176" y="280.1" width="11.2" height="6.8" fill="#1a1ea0" stroke="#111" stroke-width="1.2"/>
<text x="192" y="286.90000000000003" font-family='"Liberation Sans", sans-serif' font-size="9.7" font-weight="bold" text-anchor="start" fill="#000" >tTregs</text>
<rect x="176" y="294.2" width="11.2" height="6.8" fill="#0a14f5" stroke="#111" stroke-width="1.2"/>
<text x="192" y="301.0" font-family='"Liberation Sans", sans-serif' font-size="9.7" font-weight="bold" text-anchor="start" fill="#000" >tTregs</text>
<rect x="176" y="308.3" width="11.2" height="6.8" fill="#5a9e2a" stroke="#111" stroke-width="1.2"/>
<text x="192" y="315.1" font-family='"Liberation Sans", sans-serif' font-size="9.7" font-weight="bold" text-anchor="start" fill="#000" >pTregs</text>
<rect x="176" y="322.4" width="11.2" height="6.8" fill="#80f03c" stroke="#111" stroke-width="1.2"/>
<text x="192" y="329.2" font-family='"Liberation Sans", sans-serif' font-size="9.7" font-weight="bold" text-anchor="start" fill="#000" >pTregs</text>
<rect x="176" y="336.5" width="11.2" height="6.8" fill="#e8601a" stroke="#111" stroke-width="1.2"/>
<text x="192" y="343.3" font-family='"Liberation Sans", sans-serif' font-size="9.7" font-weight="bold" text-anchor="start" fill="#000" >Pre-BMT donor Tregs</text>
<path d="M230.2,280.9 h2.6 v7.8 h-2.6" fill="none" stroke="#000" stroke-width="1.4"/>
<text x="250.5" y="287.1" font-family='"Liberation Sans", sans-serif' font-size="9.7" font-weight="bold" text-anchor="middle" fill="#000" >PBS</text>
<path d="M230.2,295.0 h2.6 v7.8 h-2.6" fill="none" stroke="#000" stroke-width="1.4"/>
<text x="250.4" y="301.20000000000005" font-family='"Liberation Sans", sans-serif' font-size="9.7" font-weight="bold" text-anchor="middle" fill="#000" >PTCy</text>
<path d="M230.2,309.09999999999997 h2.6 v7.8 h-2.6" fill="none" stroke="#000" stroke-width="1.4"/>
<text x="250.5" y="315.3" font-family='"Liberation Sans", sans-serif' font-size="9.7" font-weight="bold" text-anchor="middle" fill="#000" >PBS</text>
<path d="M230.2,323.2 h2.6 v7.8 h-2.6" fill="none" stroke="#000" stroke-width="1.4"/>
<text x="250.4" y="329.40000000000003" font-family='"Liberation Sans", sans-serif' font-size="9.7" font-weight="bold" text-anchor="middle" fill="#000" >PTCy</text>
<path d="M268.8,282.3 h5.5 v44.5 h-5.5" fill="none" stroke="#000" stroke-width="1.5"/>
<text x="278.6" y="307.3" font-family='"Liberation Sans", sans-serif' font-size="9.35" font-weight="bold" text-anchor="start" fill="#000" >Sorted from B6</text>
<line x1="348.3" y1="305" x2="355.2" y2="305" stroke="#999" stroke-width="1"/>
<path d="M353.8,303 L356.2,305 L353.8,307" fill="none" stroke="#222" stroke-width="1.2"/>
<text x="360.3" y="307.3" font-family='"Liberation Sans", sans-serif' font-size="9.2" font-weight="bold" text-anchor="start" fill="#000" >BALB.B chimeras</text>
<polygon points="287.60,527.80 288.26,529.39 289.98,529.53 288.67,530.65 289.07,532.32 287.60,531.42 286.13,532.32 286.53,530.65 285.22,529.53 286.94,529.39" fill="#000"/>
<text x="295" y="537.7" font-family='"Liberation Sans", sans-serif' font-size="9.35" font-weight="bold" text-anchor="start" fill="#000" >p &lt; 0.05, compared to No Tregs</text>
<text x="-0.2" y="572.3" font-family='"Liberation Sans", sans-serif' font-size="18" font-weight="bold" text-anchor="start" fill="#000" >C</text>
<text x="92" y="572" font-family='"Liberation Sans", sans-serif' font-size="13.4" font-weight="bold" text-anchor="middle" fill="#000" >PBS</text>
<text x="305.5" y="569.3" font-family='"Liberation Sans", sans-serif' font-size="14.2" font-weight="bold" text-anchor="middle" fill="#000" >PTCy</text>
<rect x="28.3" y="614.9" width="41.60000000000001" height="16.149999999999977" fill="#a6eaa8" stroke="#000" stroke-opacity="0.55" stroke-width="1.5"/>
<rect x="69.9" y="614.9" width="41.5" height="16.149999999999977" fill="#bcf496" stroke="#000" stroke-opacity="0.55" stroke-width="1.5"/>
<rect x="111.4" y="614.9" width="41.5" height="16.149999999999977" fill="#f8f23e" stroke="#000" stroke-opacity="0.55" stroke-width="1.5"/>
<rect x="28.3" y="631.05" width="41.60000000000001" height="16.149999999999977" fill="#c4f890" stroke="#000" stroke-opacity="0.55" stroke-width="1.5"/>
<rect x="69.9" y="631.05" width="41.5" height="16.149999999999977" fill="#a8eaa8" stroke="#000" stroke-opacity="0.55" stroke-width="1.5"/>
<rect x="111.4" y="631.05" width="41.5" height="16.149999999999977" fill="#f8f23e" stroke="#000" stroke-opacity="0.55" stroke-width="1.5"/>
<rect x="28.3" y="647.1999999999999" width="41.60000000000001" height="16.15000000000009" fill="#b0ec9c" stroke="#000" stroke-opacity="0.55" stroke-width="1.5"/>
<rect x="69.9" y="647.1999999999999" width="41.5" height="16.15000000000009" fill="#b0ec9c" stroke="#000" stroke-opacity="0.55" stroke-width="1.5"/>
<rect x="111.4" y="647.1999999999999" width="41.5" height="16.15000000000009" fill="#f8f23e" stroke="#000" stroke-opacity="0.55" stroke-width="1.5"/>
<rect x="28.3" y="663.35" width="41.60000000000001" height="16.149999999999977" fill="#6090c4" stroke="#000" stroke-opacity="0.55" stroke-width="1.5"/>
<rect x="69.9" y="663.35" width="41.5" height="16.149999999999977" fill="#b8f0a0" stroke="#000" stroke-opacity="0.55" stroke-width="1.5"/>
<rect x="111.4" y="663.35" width="41.5" height="16.149999999999977" fill="#f8f23e" stroke="#000" stroke-opacity="0.55" stroke-width="1.5"/>
<rect x="28.3" y="679.5" width="41.60000000000001" height="16.149999999999977" fill="#3858c8" stroke="#000" stroke-opacity="0.55" stroke-width="1.5"/>
<rect x="69.9" y="679.5" width="41.5" height="16.149999999999977" fill="#5880c0" stroke="#000" stroke-opacity="0.55" stroke-width="1.5"/>
<rect x="111.4" y="679.5" width="41.5" height="16.149999999999977" fill="#b8f0a4" stroke="#000" stroke-opacity="0.55" stroke-width="1.5"/>
<rect x="28.3" y="695.65" width="41.60000000000001" height="16.149999999999977" fill="#c0f498" stroke="#000" stroke-opacity="0.55" stroke-width="1.5"/>
<rect x="69.9" y="695.65" width="41.5" height="16.149999999999977" fill="#90cca0" stroke="#000" stroke-opacity="0.55" stroke-width="1.5"/>
<rect x="111.4" y="695.65" width="41.5" height="16.149999999999977" fill="#f8f440" stroke="#000" stroke-opacity="0.55" stroke-width="1.5"/>
<rect x="28.3" y="711.8" width="41.60000000000001" height="16.149999999999977" fill="#a0dca4" stroke="#000" stroke-opacity="0.55" stroke-width="1.5"/>
<rect x="69.9" y="711.8" width="41.5" height="16.149999999999977" fill="#b0f0a0" stroke="#000" stroke-opacity="0.55" stroke-width="1.5"/>
<rect x="111.4" y="711.8" width="41.5" height="16.149999999999977" fill="#f8f440" stroke="#000" stroke-opacity="0.55" stroke-width="1.5"/>
<rect x="28.3" y="727.9499999999999" width="41.60000000000001" height="16.149999999999977" fill="#9cd8a4" stroke="#000" stroke-opacity="0.55" stroke-width="1.5"/>
<rect x="69.9" y="727.9499999999999" width="41.5" height="16.149999999999977" fill="#a4e0a4" stroke="#000" stroke-opacity="0.55" stroke-width="1.5"/>
<rect x="111.4" y="727.9499999999999" width="41.5" height="16.149999999999977" fill="#f8f440" stroke="#000" stroke-opacity="0.55" stroke-width="1.5"/>
<rect x="28.3" y="744.0999999999999" width="41.60000000000001" height="16.15000000000009" fill="#88c8a4" stroke="#000" stroke-opacity="0.55" stroke-width="1.5"/>
<rect x="69.9" y="744.0999999999999" width="41.5" height="16.15000000000009" fill="#78b8a8" stroke="#000" stroke-opacity="0.55" stroke-width="1.5"/>
<rect x="111.4" y="744.0999999999999" width="41.5" height="16.15000000000009" fill="#dcf464" stroke="#000" stroke-opacity="0.55" stroke-width="1.5"/>
<text x="1.9" y="628.1" font-family='"Liberation Sans", sans-serif' font-size="11" font-weight="bold" text-anchor="start" fill="#000" >4311</text>
<text x="1.9" y="644.25" font-family='"Liberation Sans", sans-serif' font-size="11" font-weight="bold" text-anchor="start" fill="#000" >4327</text>
<text x="1.9" y="660.4" font-family='"Liberation Sans", sans-serif' font-size="11" font-weight="bold" text-anchor="start" fill="#000" >4361</text>
<text x="1.9" y="676.5500000000001" font-family='"Liberation Sans", sans-serif' font-size="11" font-weight="bold" text-anchor="start" fill="#000" >4388</text>
<text x="1.9" y="692.7" font-family='"Liberation Sans", sans-serif' font-size="11" font-weight="bold" text-anchor="start" fill="#000" >4393</text>
<text x="1.9" y="708.85" font-family='"Liberation Sans", sans-serif' font-size="11" font-weight="bold" text-anchor="start" fill="#000" >4442</text>
<text x="1.9" y="725.0" font-family='"Liberation Sans", sans-serif' font-size="11" font-weight="bold" text-anchor="start" fill="#000" >4461</text>
<text x="1.9" y="741.15" font-family='"Liberation Sans", sans-serif' font-size="11" font-weight="bold" text-anchor="start" fill="#000" >4465</text>
<text x="1.9" y="757.3" font-family='"Liberation Sans", sans-serif' font-size="11" font-weight="bold" text-anchor="start" fill="#000" >4473</text>
<text x="31.5" y="607" font-family='"Liberation Serif", serif' font-size="12.7" font-weight="bold" text-anchor="start" fill="#000" >tTregs</text>
<text x="72" y="607" font-family='"Liberation Serif", serif' font-size="12.7" font-weight="bold" text-anchor="start" fill="#000" >pTregs</text>
<text x="113.5" y="607" font-family='"Liberation Serif", serif' font-size="12.7" font-weight="bold" text-anchor="start" fill="#000" >Tcons</text>
<rect x="157.7" y="613.0" width="42.5" height="16.370000000000005" fill="#6aa0b4" stroke="#000" stroke-opacity="0.55" stroke-width="1.5"/>
<rect x="200.2" y="613.0" width="42.10000000000002" height="16.370000000000005" fill="#4a70c4" stroke="#000" stroke-opacity="0.55" stroke-width="1.5"/>
<rect x="242.3" y="613.0" width="42.5" height="16.370000000000005" fill="#70a4b4" stroke="#000" stroke-opacity="0.55" stroke-width="1.5"/>
<rect x="284.8" y="613.0" width="41.5" height="16.370000000000005" fill="#d8f470" stroke="#000" stroke-opacity="0.55" stroke-width="1.5"/>
<rect x="326.3" y="613.0" width="42.5" height="16.370000000000005" fill="#f8f440" stroke="#000" stroke-opacity="0.55" stroke-width="1.5"/>
<rect x="368.8" y="613.0" width="42.099999999999966" height="16.370000000000005" fill="#f8f440" stroke="#000" stroke-opacity="0.55" stroke-width="1.5"/>
<rect x="410.9" y="613.0" width="41.400000000000034" height="16.370000000000005" fill="#f8f440" stroke="#000" stroke-opacity="0.55" stroke-width="1.5"/>
<rect x="157.7" y="629.37" width="42.5" height="16.370000000000005" fill="#7cbcac" stroke="#000" stroke-opacity="0.55" stroke-width="1.5"/>
<rect x="200.2" y="629.37" width="42.10000000000002" height="16.370000000000005" fill="#4870c4" stroke="#000" stroke-opacity="0.55" stroke-width="1.5"/>
<rect x="242.3" y="629.37" width="42.5" height="16.370000000000005" fill="#70a4b4" stroke="#000" stroke-opacity="0.55" stroke-width="1.5"/>
<rect x="284.8" y="629.37" width="41.5" height="16.370000000000005" fill="#ccf480" stroke="#000" stroke-opacity="0.55" stroke-width="1.5"/>
<rect x="326.3" y="629.37" width="42.5" height="16.370000000000005" fill="#f8f440" stroke="#000" stroke-opacity="0.55" stroke-width="1.5"/>
<rect x="368.8" y="629.37" width="42.099999999999966" height="16.370000000000005" fill="#f8f440" stroke="#000" stroke-opacity="0.55" stroke-width="1.5"/>
<rect x="410.9" y="629.37" width="41.400000000000034" height="16.370000000000005" fill="#f8f440" stroke="#000" stroke-opacity="0.55" stroke-width="1.5"/>
<rect x="157.7" y="645.74" width="42.5" height="16.370000000000005" fill="#5888c4" stroke="#000" stroke-opacity="0.55" stroke-width="1.5"/>
<rect x="200.2" y="645.74" width="42.10000000000002" height="16.370000000000005" fill="#4468c8" stroke="#000" stroke-opacity="0.55" stroke-width="1.5"/>
<rect x="242.3" y="645.74" width="42.5" height="16.370000000000005" fill="#78acb0" stroke="#000" stroke-opacity="0.55" stroke-width="1.5"/>
<rect x="284.8" y="645.74" width="41.5" height="16.370000000000005" fill="#c8f480" stroke="#000" stroke-opacity="0.55" stroke-width="1.5"/>
<rect x="326.3" y="645.74" width="42.5" height="16.370000000000005" fill="#f2f446" stroke="#000" stroke-opacity="0.55" stroke-width="1.5"/>
<rect x="368.8" y="645.74" width="42.099999999999966" height="16.370000000000005" fill="#f8f440" stroke="#000" stroke-opacity="0.55" stroke-width="1.5"/>
<rect x="410.9" y="645.74" width="41.400000000000034" height="16.370000000000005" fill="#f8f440" stroke="#000" stroke-opacity="0.55" stroke-width="1.5"/>
<rect x="157.7" y="662.11" width="42.5" height="16.370000000000005" fill="#6aa0b4" stroke="#000" stroke-opacity="0.55" stroke-width="1.5"/>
<rect x="200.2" y="662.11" width="42.10000000000002" height="16.370000000000005" fill="#5080c0" stroke="#000" stroke-opacity="0.55" stroke-width="1.5"/>
<rect x="242.3" y="662.11" width="42.5" height="16.370000000000005" fill="#78acb0" stroke="#000" stroke-opacity="0.55" stroke-width="1.5"/>
<rect x="284.8" y="662.11" width="41.5" height="16.370000000000005" fill="#c8f480" stroke="#000" stroke-opacity="0.55" stroke-width="1.5"/>
<rect x="326.3" y="662.11" width="42.5" height="16.370000000000005" fill="#f8f440" stroke="#000" stroke-opacity="0.55" stroke-width="1.5"/>
<rect x="368.8" y="662.11" width="42.099999999999966" height="16.370000000000005" fill="#f8f440" stroke="#000" stroke-opacity="0.55" stroke-width="1.5"/>
<rect x="410.9" y="662.11" width="41.400000000000034" height="16.370000000000005" fill="#f8f440" stroke="#000" stroke-opacity="0.55" stroke-width="1.5"/>
<rect x="157.7" y="678.48" width="42.5" height="16.370000000000005" fill="#3858c8" stroke="#000" stroke-opacity="0.55" stroke-width="1.5"/>
<rect x="200.2" y="678.48" width="42.10000000000002" height="16.370000000000005" fill="#1c34d4" stroke="#000" stroke-opacity="0.55" stroke-width="1.5"/>
<rect x="242.3" y="678.48" width="42.5" height="16.370000000000005" fill="#1c34d4" stroke="#000" stroke-opacity="0.55" stroke-width="1.5"/>
<rect x="284.8" y="678.48" width="41.5" height="16.370000000000005" fill="#78acb0" stroke="#000" stroke-opacity="0.55" stroke-width="1.5"/>
<rect x="326.3" y="678.48" width="42.5" height="16.370000000000005" fill="#a8eca8" stroke="#000" stroke-opacity="0.55" stroke-width="1.5"/>
<rect x="368.8" y="678.48" width="42.099999999999966" height="16.370000000000005" fill="#a8eca8" stroke="#000" stroke-opacity="0.55" stroke-width="1.5"/>
<rect x="410.9" y="678.48" width="41.400000000000034" height="16.370000000000005" fill="#a4e4ac" stroke="#000" stroke-opacity="0.55" stroke-width="1.5"/>
<rect x="157.7" y="694.85" width="42.5" height="16.370000000000005" fill="#78b4ac" stroke="#000" stroke-opacity="0.55" stroke-width="1.5"/>
<rect x="200.2" y="694.85" width="42.10000000000002" height="16.370000000000005" fill="#5078c0" stroke="#000" stroke-opacity="0.55" stroke-width="1.5"/>
<rect x="242.3" y="694.85" width="42.5" height="16.370000000000005" fill="#70a4b4" stroke="#000" stroke-opacity="0.55" stroke-width="1.5"/>
<rect x="284.8" y="694.85" width="41.5" height="16.370000000000005" fill="#d4f470" stroke="#000" stroke-opacity="0.55" stroke-width="1.5"/>
<rect x="326.3" y="694.85" width="42.5" height="16.370000000000005" fill="#f8f440" stroke="#000" stroke-opacity="0.55" stroke-width="1.5"/>
<rect x="368.8" y="694.85" width="42.099999999999966" height="16.370000000000005" fill="#f8f440" stroke="#000" stroke-opacity="0.55" stroke-width="1.5"/>
<rect x="410.9" y="694.85" width="41.400000000000034" height="16.370000000000005" fill="#f2f446" stroke="#000" stroke-opacity="0.55" stroke-width="1.5"/>
<rect x="157.7" y="711.22" width="42.5" height="16.370000000000005" fill="#78b4ac" stroke="#000" stroke-opacity="0.55" stroke-width="1.5"/>
<rect x="200.2" y="711.22" width="42.10000000000002" height="16.370000000000005" fill="#4c74c4" stroke="#000" stroke-opacity="0.55" stroke-width="1.5"/>
<rect x="242.3" y="711.22" width="42.5" height="16.370000000000005" fill="#6c9cb8" stroke="#000" stroke-opacity="0.55" stroke-width="1.5"/>
<rect x="284.8" y="711.22" width="41.5" height="16.370000000000005" fill="#d4f470" stroke="#000" stroke-opacity="0.55" stroke-width="1.5"/>
<rect x="326.3" y="711.22" width="42.5" height="16.370000000000005" fill="#f8f440" stroke="#000" stroke-opacity="0.55" stroke-width="1.5"/>
<rect x="368.8" y="711.22" width="42.099999999999966" height="16.370000000000005" fill="#f8f440" stroke="#000" stroke-opacity="0.55" stroke-width="1.5"/>
<rect x="410.9" y="711.22" width="41.400000000000034" height="16.370000000000005" fill="#f8f440" stroke="#000" stroke-opacity="0.55" stroke-width="1.5"/>
<rect x="157.7" y="727.59" width="42.5" height="16.370000000000005" fill="#74b0b0" stroke="#000" stroke-opacity="0.55" stroke-width="1.5"/>
<rect x="200.2" y="727.59" width="42.10000000000002" height="16.370000000000005" fill="#3c60c8" stroke="#000" stroke-opacity="0.55" stroke-width="1.5"/>
<rect x="242.3" y="727.59" width="42.5" height="16.370000000000005" fill="#5888c0" stroke="#000" stroke-opacity="0.55" stroke-width="1.5"/>
<rect x="284.8" y="727.59" width="41.5" height="16.370000000000005" fill="#ccf47c" stroke="#000" stroke-opacity="0.55" stroke-width="1.5"/>
<rect x="326.3" y="727.59" width="42.5" height="16.370000000000005" fill="#f2f446" stroke="#000" stroke-opacity="0.55" stroke-width="1.5"/>
<rect x="368.8" y="727.59" width="42.099999999999966" height="16.370000000000005" fill="#f8f440" stroke="#000" stroke-opacity="0.55" stroke-width="1.5"/>
<rect x="410.9" y="727.59" width="41.400000000000034" height="16.370000000000005" fill="#f8f440" stroke="#000" stroke-opacity="0.55" stroke-width="1.5"/>
<rect x="157.7" y="743.96" width="42.5" height="16.370000000000005" fill="#6898b8" stroke="#000" stroke-opacity="0.55" stroke-width="1.5"/>
<rect x="200.2" y="743.96" width="42.10000000000002" height="16.370000000000005" fill="#3c64c8" stroke="#000" stroke-opacity="0.55" stroke-width="1.5"/>
<rect x="242.3" y="743.96" width="42.5" height="16.370000000000005" fill="#5888c0" stroke="#000" stroke-opacity="0.55" stroke-width="1.5"/>
<rect x="284.8" y="743.96" width="41.5" height="16.370000000000005" fill="#c8f480" stroke="#000" stroke-opacity="0.55" stroke-width="1.5"/>
<rect x="326.3" y="743.96" width="42.5" height="16.370000000000005" fill="#f8f440" stroke="#000" stroke-opacity="0.55" stroke-width="1.5"/>
<rect x="368.8" y="743.96" width="42.099999999999966" height="16.370000000000005" fill="#f8f440" stroke="#000" stroke-opacity="0.55" stroke-width="1.5"/>
<rect x="410.9" y="743.96" width="41.400000000000034" height="16.370000000000005" fill="#f2f446" stroke="#000" stroke-opacity="0.55" stroke-width="1.5"/>
<path d="M156.8,610.8 Q156.8,603.5 159.8,603.5 L217.2,603.5 Q220.2,603.5 220.2,597.5 Q220.2,603.5 223.2,603.5 L280,603.5 Q283,603.5 283,610.8" fill="none" stroke="#000" stroke-width="1.3"/>
<path d="M286.2,610.8 Q286.2,603.5 289.2,603.5 L301.2,603.5 Q304.2,603.5 304.2,597.5 Q304.2,603.5 307.2,603.5 L320.3,603.5 Q323.3,603.5 323.3,610.8" fill="none" stroke="#000" stroke-width="1.3"/>
<path d="M326,610.8 Q326,603.5 329,603.5 L386,603.5 Q389,603.5 389,597.5 Q389,603.5 392,603.5 L448.3,603.5 Q451.3,603.5 451.3,610.8" fill="none" stroke="#000" stroke-width="1.3"/>
<text x="219.5" y="588" font-family='"Liberation Serif", serif' font-size="12.7" font-weight="bold" text-anchor="middle" fill="#000" >tTregs</text>
<text x="300.5" y="587.5" font-family='"Liberation Serif", serif' font-size="12.7" font-weight="bold" text-anchor="middle" fill="#000" >pTregs</text>
<text x="382.6" y="587" font-family='"Liberation Serif", serif' font-size="12.7" font-weight="bold" text-anchor="middle" fill="#000" >Tcons</text>
<text x="179" y="610" font-family='"Liberation Sans", sans-serif' font-size="6.6" font-weight="bold" text-anchor="middle" fill="#000" >Spleen</text>
<text x="220" y="610" font-family='"Liberation Sans", sans-serif' font-size="6.6" font-weight="bold" text-anchor="middle" fill="#000" >CLN</text>
<text x="261.2" y="610" font-family='"Liberation Sans", sans-serif' font-size="6.6" font-weight="bold" text-anchor="middle" fill="#000" >MLN</text>
<text x="306.5" y="610" font-family='"Liberation Sans", sans-serif' font-size="6.6" font-weight="bold" text-anchor="middle" fill="#000" >Pooled</text>
<text x="346.6" y="610" font-family='"Liberation Sans", sans-serif' font-size="6.6" font-weight="bold" text-anchor="middle" fill="#000" >Spleen</text>
<text x="387.3" y="610" font-family='"Liberation Sans", sans-serif' font-size="6.6" font-weight="bold" text-anchor="middle" fill="#000" >CLN</text>
<text x="428" y="610" font-family='"Liberation Sans", sans-serif' font-size="6.6" font-weight="bold" text-anchor="middle" fill="#000" >MLN</text>
<rect x="469.5" y="624" width="26" height="12.000000000000046" fill="#1e30d0"/>
<rect x="469.5" y="635.7" width="26" height="11.599999999999955" fill="#3a56c8"/>
<rect x="469.5" y="647" width="26" height="11.400000000000023" fill="#5a82bc"/>
<rect x="469.5" y="658.1" width="26" height="11.699999999999978" fill="#68a0a8"/>
<rect x="469.5" y="669.5" width="26" height="11.699999999999978" fill="#98daa0"/>
<defs><linearGradient id="cbg" x1="0" y1="0" x2="0" y2="1"><stop offset="0" stop-color="#b8f49c"/><stop offset="0.3" stop-color="#ccf884"/><stop offset="0.6" stop-color="#e6f85c"/><stop offset="1" stop-color="#f8f630"/></linearGradient></defs>
<rect x="469.5" y="680.9" width="26" height="70.2" fill="url(#cbg)"/>
<text x="468.5" y="632.6" font-family='"Liberation Sans", sans-serif' font-size="7.3" font-weight="bold" text-anchor="end" fill="#000" >0</text>
<text x="468.5" y="644.19" font-family='"Liberation Sans", sans-serif' font-size="7.3" font-weight="bold" text-anchor="end" fill="#000" >10</text>
<text x="468.5" y="655.78" font-family='"Liberation Sans", sans-serif' font-size="7.3" font-weight="bold" text-anchor="end" fill="#000" >20</text>
<text x="468.5" y="667.37" font-family='"Liberation Sans", sans-serif' font-size="7.3" font-weight="bold" text-anchor="end" fill="#000" >30</text>
<text x="468.5" y="678.96" font-family='"Liberation Sans", sans-serif' font-size="7.3" font-weight="bold" text-anchor="end" fill="#000" >40</text>
<text x="468.5" y="690.5500000000001" font-family='"Liberation Sans", sans-serif' font-size="7.3" font-weight="bold" text-anchor="end" fill="#000" >50</text>
<text x="468.5" y="702.14" font-family='"Liberation Sans", sans-serif' font-size="7.3" font-weight="bold" text-anchor="end" fill="#000" >60</text>
<text x="468.5" y="713.73" font-family='"Liberation Sans", sans-serif' font-size="7.3" font-weight="bold" text-anchor="end" fill="#000" >70</text>
<text x="468.5" y="725.32" font-family='"Liberation Sans", sans-serif' font-size="7.3" font-weight="bold" text-anchor="end" fill="#000" >80</text>
<text x="468.5" y="736.91" font-family='"Liberation Sans", sans-serif' font-size="7.3" font-weight="bold" text-anchor="end" fill="#000" >90</text>
<text x="468.5" y="748.5" font-family='"Liberation Sans", sans-serif' font-size="7.3" font-weight="bold" text-anchor="end" fill="#000" >100</text>
<text x="0" y="0" transform="translate(515,693.2) rotate(-90)" font-family='"Liberation Sans", sans-serif' font-size="14.8" font-weight="bold" text-anchor="middle">% methylation</text>
</svg></body></html>
